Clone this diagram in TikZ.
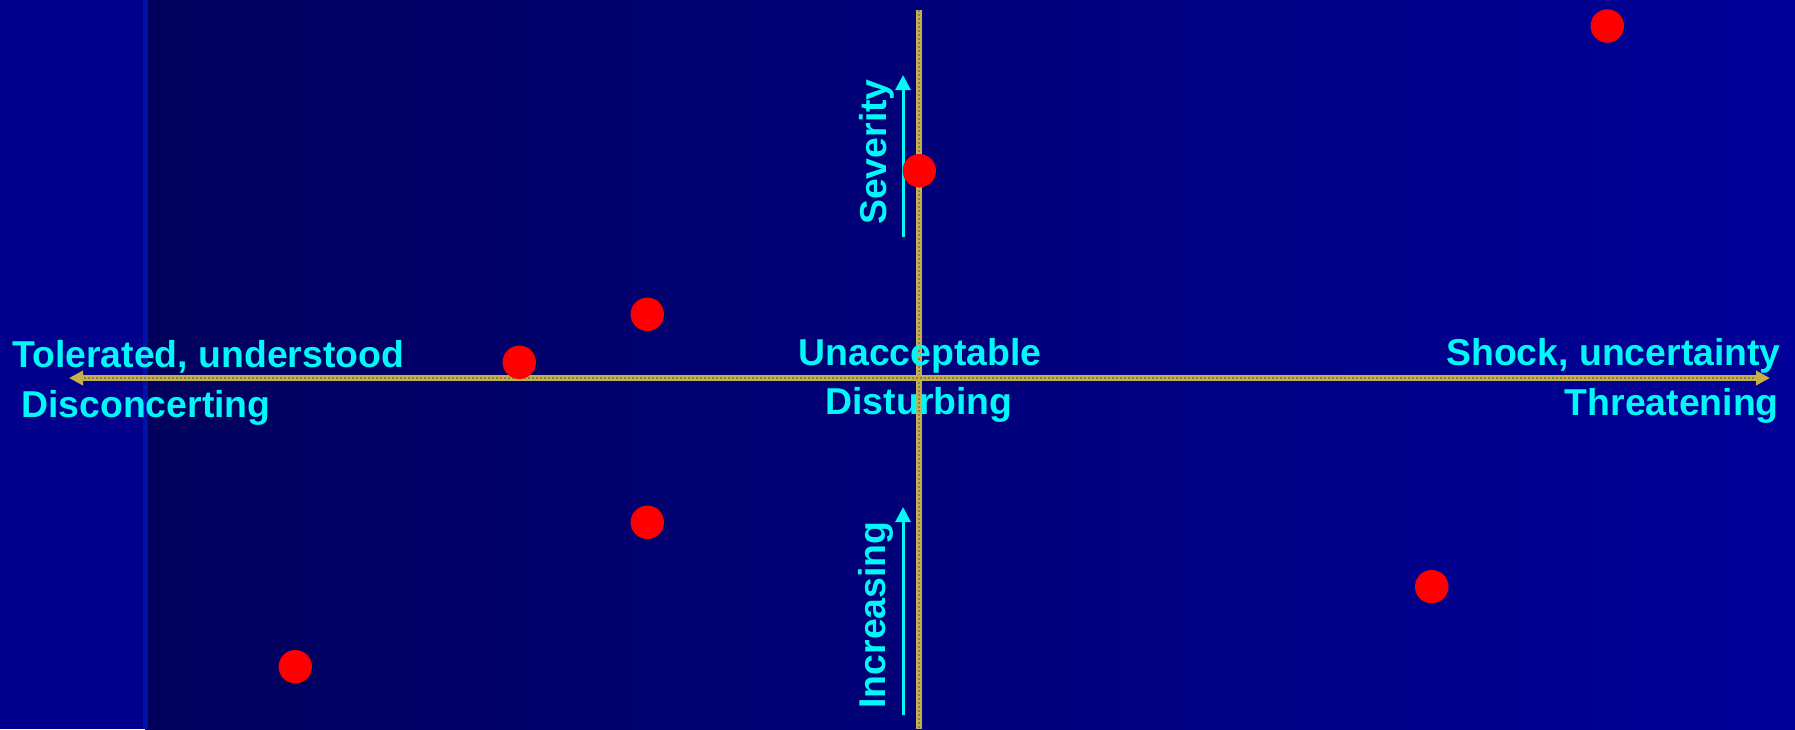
\documentclass[tikz,border=0pt]{standalone}
\usepackage{fontspec}
\setmainfont{Liberation Sans}
\usetikzlibrary{arrows.meta}
\definecolor{bgleft}{RGB}{0,0,92}
\definecolor{bgright}{RGB}{0,0,152}
\definecolor{strip}{RGB}{0,0,140}
\definecolor{stripline}{RGB}{0,18,165}
\definecolor{axisyellow}{RGB}{196,176,70}
\definecolor{axisgray}{RGB}{130,125,100}
\definecolor{labelcyan}{RGB}{0,248,248}
\definecolor{dotred}{RGB}{255,0,0}
\begin{document}
\begin{tikzpicture}[x=1pt,y=-1pt,
  lbl/.style={text=labelcyan,font=\fontsize{37.4}{44}\selectfont\bfseries,inner sep=0pt},
  axisline/.style={draw=axisyellow,line width=6pt},
  axisdots/.style={draw=axisgray,line width=2pt,dash pattern=on 2pt off 2pt},
  dot/.style={circle,fill=dotred,minimum size=33.4pt,inner sep=0pt},
  cue/.style={draw=labelcyan,line width=3pt,-{Triangle[length=15pt,width=15pt]}}]
% background
\useasboundingbox (0,0) rectangle (1795,729);
\fill[strip] (0,0) rectangle (145,729);
\shade[left color=bgleft,right color=bgright] (145,0) rectangle (1795,729);
\fill[stripline] (143,0) rectangle (148,729);
% axes
\coordinate (xl) at (69,378);
\coordinate (xr) at (1770,378);
\coordinate (yt) at (919.3,10);
\coordinate (yb) at (919.3,729);
\coordinate (xl2) at (84,378);
\coordinate (xr2) at (1755,378);
\draw[axisline] (yt) -- (yb);
\draw[axisdots] (yt) -- (yb);
\draw[axisline,{Triangle[length=14pt,width=14pt]}-{Triangle[length=14pt,width=14pt]}] (xl) -- (xr);
\draw[axisdots] (xl2) -- (xr2);
% cue arrows
\coordinate (s0) at (903,237);
\coordinate (s1) at (903,75);
\coordinate (i0) at (903,715);
\coordinate (i1) at (903,507);
\draw[cue] (s0) -- (s1);
\draw[cue] (i0) -- (i1);
% labels
\node[lbl,anchor=base west] (tol) at (12,367) {Tolerated, understood};
\node[lbl,anchor=base west] (dis) at (21,417) {Disconcerting};
\node[lbl,anchor=base] (una) at (920,365) {Unacceptable};
\node[lbl,anchor=base] (dst) at (919,414) {Disturbing};
\node[lbl,anchor=base east] (sho) at (1781,365) {Shock, uncertainty};
\node[lbl,anchor=base east] (thr) at (1779,415) {Threatening};
\node[lbl,anchor=base,rotate=90] (sev) at (886,152) {Severity};
\node[lbl,anchor=base,rotate=90] (inc) at (885,615) {Increasing};
% dots
\node[dot] (d1) at (1607.3,26) {};
\node[dot] (d2) at (919.3,170.7) {};
\node[dot] (d3) at (647.3,314.3) {};
\node[dot] (d4) at (519.3,362.3) {};
\node[dot] (d5) at (647.3,522.3) {};
\node[dot] (d6) at (1431.7,586.7) {};
\node[dot] (d7) at (295.3,666.7) {};
\end{tikzpicture}
\end{document}
